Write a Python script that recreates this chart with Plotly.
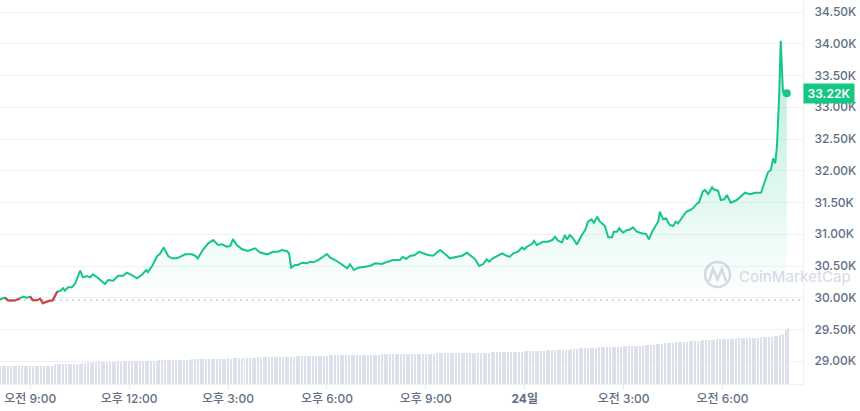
import plotly.graph_objects as go
import pandas as pd

# ---------------- data ----------------
start = pd.Timestamp("2023-10-23 08:05")

minutes_from_start = [
    0, 9, 15, 27, 36, 42, 49, 55, 60, 67,
    73, 78, 87, 96, 104, 109, 115, 118, 124, 131,
    137, 146, 151, 158, 164, 169, 178, 191, 197, 206,
    215, 224, 231, 240, 249, 258, 266, 269, 278, 286,
    291, 298, 306, 313, 322, 337, 349, 355, 360, 369,
    379, 388, 397, 404, 413, 419, 424, 431, 440, 451,
    464, 473, 486, 497, 506, 513, 522, 526, 530, 537,
    542, 550, 559, 564, 570, 579, 588, 595, 601, 610,
    619, 632, 637, 644, 652, 661, 673, 683, 695, 706,
    715, 728, 733, 739, 746, 755, 763, 770, 779, 788,
    801, 810, 819, 832, 841, 850, 859, 865, 872, 879,
    886, 890, 897, 906, 914, 923, 928, 934, 943, 950,
    954, 959, 968, 972, 977, 983, 988, 997, 1005, 1010,
    1016, 1023, 1028, 1032, 1037, 1043, 1050, 1059, 1065, 1070,
    1077, 1081, 1087, 1092, 1101, 1107, 1114, 1117, 1123, 1127,
    1134, 1141, 1145, 1152, 1159, 1168, 1176, 1181, 1187, 1194,
    1198, 1201, 1207, 1212, 1219, 1225, 1230, 1234, 1241, 1249,
    1256, 1261, 1269, 1272, 1279, 1283, 1289, 1296, 1299, 1307,
    1312, 1318, 1323, 1330, 1341, 1356, 1365, 1374, 1385, 1392,
    1398, 1403, 1407, 1411, 1414, 1418, 1421, 1425, 1429, 1432,
]

price_usd = [
    29975, 30001, 29955, 29955, 29991, 30017, 30001, 30017, 29960, 29960,
    29985, 29913, 29944, 29960, 30095, 30106, 30149, 30111, 30165, 30165,
    30228, 30426, 30322, 30343, 30322, 30369, 30316, 30217, 30280, 30269,
    30347, 30347, 30395, 30358, 30306, 30358, 30437, 30401, 30516, 30657,
    30689, 30794, 30657, 30621, 30621, 30684, 30684, 30662, 30621, 30752,
    30857, 30909, 30831, 30842, 30804, 30815, 30925, 30831, 30768, 30736,
    30779, 30716, 30684, 30725, 30725, 30752, 30736, 30700, 30473, 30516,
    30516, 30552, 30543, 30568, 30558, 30594, 30646, 30689, 30631, 30594,
    30543, 30464, 30527, 30437, 30473, 30489, 30500, 30543, 30531, 30568,
    30594, 30594, 30646, 30610, 30657, 30673, 30725, 30700, 30673, 30662,
    30752, 30689, 30621, 30646, 30662, 30709, 30646, 30605, 30500, 30527,
    30605, 30568, 30621, 30657, 30700, 30657, 30646, 30700, 30725, 30794,
    30763, 30804, 30846, 30898, 30831, 30857, 30883, 30883, 30909, 30961,
    30898, 30873, 30988, 30920, 30988, 30936, 30839, 30988, 31067, 31198,
    31235, 31182, 31276, 31198, 31130, 30952, 30952, 31040, 31040, 31094,
    31024, 31067, 31067, 31109, 31040, 31015, 31004, 30920, 31040, 31146,
    31198, 31355, 31235, 31251, 31146, 31130, 31198, 31172, 31251, 31355,
    31382, 31409, 31487, 31497, 31670, 31697, 31634, 31739, 31708, 31686,
    31539, 31550, 31618, 31497, 31539, 31654, 31629, 31654, 31654, 31828,
    31980, 32012, 32193, 32117, 32379, 33166, 34048, 33245, 33210, 33220,
]

open_price = 29965
last_price = 33220
last_label = "33.22K"

# 24h volume (billion USD), one bar per 5 minutes
volume_bn = [
    14.3, 14.4, 14.4, 14.4, 14.5, 14.4, 14.4, 14.5, 14.5, 14.5,
    14.5, 14.5, 14.4, 14.5, 14.5, 14.6, 14.6, 14.5, 14.6, 14.6,
    16.0, 16.0, 16.1, 16.0, 16.1, 16.1, 16.2, 16.1, 16.2, 16.4,
    17.2, 17.2, 17.3, 17.2, 17.3, 17.3, 17.4, 17.3, 17.4, 17.6,
    17.9, 18.0, 18.0, 18.1, 18.0, 18.1, 18.1, 18.2, 18.2, 18.3,
    18.6, 18.6, 18.7, 18.6, 18.7, 18.8, 18.7, 18.8, 18.9, 18.9,
    19.1, 19.2, 19.2, 19.3, 19.2, 19.3, 19.4, 19.3, 19.4, 19.5,
    19.7, 19.8, 19.8, 19.9, 19.8, 19.9, 20.0, 19.9, 20.0, 20.1,
    20.3, 20.4, 20.4, 20.5, 20.4, 20.5, 20.6, 20.6, 20.7, 20.8,
    21.0, 21.1, 21.2, 21.2, 21.3, 21.2, 21.3, 21.4, 21.4, 21.5,
    21.7, 21.8, 21.8, 21.9, 21.8, 21.9, 22.0, 22.0, 22.1, 22.1,
    22.3, 22.4, 22.4, 22.5, 22.4, 22.5, 22.6, 22.6, 22.7, 22.7,
    22.9, 23.0, 23.0, 23.1, 23.0, 23.1, 23.1, 23.2, 23.2, 23.3,
    23.3, 23.4, 23.4, 23.5, 23.4, 23.5, 23.5, 23.6, 23.6, 23.7,
    23.7, 23.8, 23.8, 23.9, 23.8, 23.9, 23.9, 24.0, 24.0, 24.1,
    24.1, 24.2, 24.2, 24.3, 24.2, 24.3, 24.3, 24.4, 24.4, 24.5,
    24.5, 24.6, 24.6, 24.7, 24.6, 24.7, 24.7, 24.8, 24.8, 24.9,
    24.9, 25.0, 25.0, 25.1, 25.0, 25.1, 25.1, 25.2, 25.2, 25.3,
    25.3, 25.4, 25.4, 25.5, 25.5, 25.6, 25.6, 25.7, 25.8, 25.9,
    26.0, 26.1, 26.2, 26.2, 26.3, 26.4, 26.5, 26.6, 26.7, 26.9,
    27.0, 27.1, 27.2, 27.3, 27.3, 27.4, 27.5, 27.6, 27.8, 28.0,
    28.3, 28.5, 28.7, 28.8, 28.9, 29.0, 29.1, 29.2, 29.3, 29.4,
    29.5, 29.6, 29.7, 29.8, 29.8, 29.9, 30.0, 30.1, 30.2, 30.3,
    30.4, 30.5, 30.6, 30.7, 30.8, 30.9, 31.1, 31.3, 31.5, 31.8,
    32.1, 32.4, 32.6, 32.8, 33.0, 33.1, 33.3, 33.4, 33.6, 33.8,
    34.0, 34.2, 34.3, 34.5, 34.6, 34.8, 35.0, 35.1, 35.3, 35.5,
    35.6, 35.8, 35.9, 36.0, 36.1, 36.2, 36.3, 36.4, 36.5, 36.6,
    36.7, 36.8, 36.9, 37.0, 37.1, 37.1, 37.2, 37.3, 37.4, 37.5,
    37.7, 37.9, 38.2, 38.6, 39.2, 40.4, 43.2, 45.2,
]

tick_times = ["2023-10-23 09:00", "2023-10-23 12:00", "2023-10-23 15:00",
              "2023-10-23 18:00", "2023-10-23 21:00", "2023-10-24 00:00",
              "2023-10-24 03:00", "2023-10-24 06:00"]
tick_labels = ["오전 9:00", "오후 12:00", "오후 3:00", "오후 6:00",
               "오후 9:00", "<b>24일</b>", "오전 3:00", "오전 6:00"]

y_ticks = [29000, 29500, 30000, 30500, 31000, 31500, 32000,
           32500, 33000, 33500, 34000, 34500]
y_labels = ["29.00K", "29.50K", "30.00K", "30.50K", "31.00K", "31.50K",
            "32.00K", "32.50K", "33.00K", "33.50K", "34.00K", "34.50K"]

# ---------------- styling ----------------
GREEN = "#16c784"
RED = "#ea3943"
GRID = "#eff2f5"
TXT = "#616e85"
FONT = "Inter, 'Noto Sans CJK KR', sans-serif"

times = [start + pd.Timedelta(minutes=m) for m in minutes_from_start]
vol_times = pd.date_range(start, periods=len(volume_bn), freq="5min")
n = len(times)

red_y = [None] * n
for i in range(n - 1):
    if price_usd[i] < open_price or price_usd[i + 1] < open_price:
        red_y[i] = price_usd[i]
        red_y[i + 1] = price_usd[i + 1]

fig = go.Figure()

# volume bars
fig.add_trace(go.Bar(
    x=vol_times, y=volume_bn, yaxis="y2",
    marker=dict(color="#dde1ec", line=dict(width=0)),
    width=110000, hoverinfo="skip"))

# baseline (open) for the fill
fig.add_trace(go.Scatter(
    x=times, y=[open_price] * n, mode="lines",
    line=dict(width=0, color="rgba(0,0,0,0)"), hoverinfo="skip"))

# price line with gradient fill
fig.add_trace(go.Scatter(
    x=times, y=price_usd, mode="lines", fill="tonexty",
    line=dict(color=GREEN, width=2),
    fillgradient=dict(type="vertical",
                      colorscale=[[0, "rgba(22,199,132,0)"],
                                  [1, "rgba(22,199,132,0.32)"]],
                      start=open_price, stop=34100)))

# below-open segments in red
fig.add_trace(go.Scatter(
    x=times, y=red_y, mode="lines", connectgaps=False,
    line=dict(color=RED, width=2), hoverinfo="skip"))

# last point marker
fig.add_trace(go.Scatter(
    x=[times[-1]], y=[price_usd[-1]], mode="markers",
    marker=dict(color=GREEN, size=8), hoverinfo="skip"))

# open-price dotted line
fig.add_shape(type="line", xref="paper", x0=0, x1=1, yref="y",
              y0=open_price, y1=open_price, layer="below",
              line=dict(color="#a6b0c3", width=1, dash="2px,4px"))

# watermark
WM = "rgba(150,160,190,0.38)"
fig.add_shape(type="circle", xref="paper", yref="paper",
              x0=705 / 803, x1=730 / 803, y0=1 - 287 / 384, y1=1 - 262 / 384,
              line=dict(color=WM, width=2.5), layer="above")
fig.add_shape(type="path", xref="paper", yref="paper",
              path="M 0.883 0.268 L 0.888 0.2995 L 0.8935 0.272 L 0.899 0.2995 L 0.904 0.268",
              line=dict(color=WM, width=2.5), layer="above")
fig.add_annotation(xref="paper", yref="paper", x=737 / 803, y=1 - 276 / 384,
                   xanchor="left", yanchor="middle", showarrow=False,
                   text="CoinMarketCap",
                   font=dict(family=FONT, size=15, color=WM, weight=500))

# current price label
fig.add_annotation(xref="paper", x=1, yref="y", y=last_price,
                   xanchor="left", yanchor="middle", showarrow=False,
                   text=last_label, bgcolor=GREEN, borderpad=3,
                   width=44, height=13,
                   font=dict(family=FONT, size=12, color="white", weight=600))

fig.update_layout(
    width=860, height=411,
    margin=dict(l=0, r=57, t=0, b=27),
    paper_bgcolor="white", plot_bgcolor="white",
    showlegend=False, bargap=0,
    font=dict(family=FONT, size=12, color=TXT),
    xaxis=dict(type="date",
               range=[start, start + pd.Timedelta(minutes=1461.5)],
               tickvals=tick_times, ticktext=tick_labels,
               showgrid=False, zeroline=False, showline=True,
               linecolor=GRID, linewidth=1,
               ticks="outside", ticklen=4, tickcolor="#e3e6ec",
               tickfont=dict(family=FONT, size=12, color=TXT, weight=500),
               fixedrange=True),
    yaxis=dict(side="right", range=[28642, 34689],
               tickvals=y_ticks, ticktext=y_labels,
               showgrid=True, gridcolor=GRID, gridwidth=1,
               zeroline=False, showline=True, linecolor=GRID,
               ticks="", ticklabelstandoff=8,
               tickfont=dict(family=FONT, size=12, color=TXT, weight=500),
               fixedrange=True),
    yaxis2=dict(overlaying="y", range=[0, 307.2], visible=False,
                fixedrange=True),
)

fig.write_html("out.html", config={"displayModeBar": False},
               post_script="document.body.style.margin='0';document.body.style.overflow='hidden';")
